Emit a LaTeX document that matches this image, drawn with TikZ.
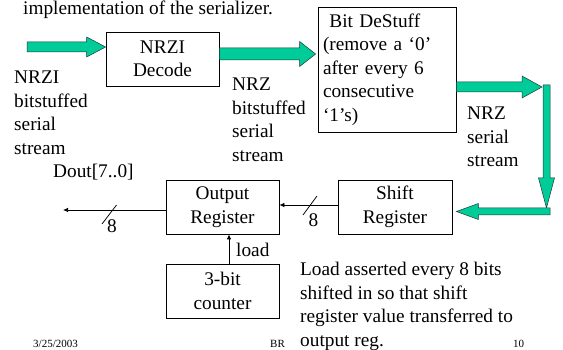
\documentclass[tikz,border=0pt]{standalone}
\usepackage{fontspec}
\setmainfont{Liberation Serif}
\usetikzlibrary{calc,arrows.meta}
\definecolor{gfill}{HTML}{00CC99}
\definecolor{gline}{HTML}{1A3A33}
% block arrow: start, tip, half shaft, half head, head length
\newcommand\blkarrow[5]{%
  \path ($(#2)!#5!(#1)$) coordinate (hb);
  \filldraw[garrow] ($(#1)!#3!90:(#2)$) -- ($(hb)!#3!90:(#2)$) -- ($(hb)!#4!90:(#2)$)
    -- (#2) -- ($(hb)!#4!-90:(#2)$) -- ($(hb)!#3!-90:(#2)$) -- ($(#1)!#3!-90:(#2)$) -- cycle;}
\begin{document}
\begin{tikzpicture}[x=1pt,y=-1pt,
  every node/.style={font=\fontsize{19.3}{23.5}\selectfont, inner sep=0pt},
  box/.style={draw=black, line width=0.75pt, align=center},
  txt/.style={align=left, anchor=north west},
  garrow/.style={fill=gfill, draw=gline, line width=0.5pt, line join=miter},
  sig/.style={draw=black, line width=0.75pt, -{Latex[length=5pt,width=4.5pt]}},
  slash/.style={draw=black, line width=0.75pt},
  foot/.style={font=\fontsize{11}{13}\selectfont, anchor=base west}]
\useasboundingbox (0,0) rectangle (563,350);

% title
\node[anchor=base west] (title) at (23,14.5) {implementation of the serializer.};

% boxes
\node[box, minimum width=113pt, minimum height=54pt] (nrzi) at (162.5,59) {NRZI\\Decode};
\node[box, minimum width=138pt, minimum height=125pt, text width=128pt, align=left, inner xsep=5pt] (destuff) at (387,69.5)
  {\ Bit DeStuff\\(remove a `0'\\after every 6\\consecutive\\`1's)};
\node[box, minimum width=114pt, minimum height=54pt] (shift) at (395,207) {Shift\\Register};
\node[box, minimum width=113pt, minimum height=54pt] (outr) at (222.5,207) {Output\\Register};
\node[box, minimum width=113pt, minimum height=54pt] (cnt) at (222.5,291) {3-bit\\counter};

% labels
\node[txt] (lab1) at (14,71) {NRZI\\bitstuffed\\serial\\stream};
\node[txt] (lab2) at (232,78) {NRZ\\bitstuffed\\serial\\stream};
\node[txt] (lab3) at (467,107) {NRZ\\serial\\stream};
\node[anchor=base west] (dout) at (53,178) {Dout[7..0]};
\node[anchor=base west] (load) at (236,257) {load};
\node[txt] (note) at (300,262) {Load asserted every 8 bits\\shifted in so that shift\\register value transferred to\\output reg.};

% green block arrows
\coordinate (inS) at (27,47);
\coordinate (inT) at ($(nrzi.west)+(0,-12)$);
\blkarrow{inS}{inT}{5pt}{10pt}{19pt}
\coordinate (a2S) at ($(nrzi.east)+(0,-5)$);
\coordinate (a2T) at ($(destuff.west |- a2S)+(-2,0)$);
\blkarrow{a2S}{a2T}{6pt}{12.5pt}{16pt}
\coordinate (a3S) at ($(destuff.east)+(0,17.5)$);
\coordinate (a3T) at (542,87);
\blkarrow{a3S}{a3T}{5pt}{11pt}{20pt}
\coordinate (vS) at (546.5,85);
\coordinate (vT) at (546.5,208);
\blkarrow{vS}{vT}{3.5pt}{8pt}{30pt}
\coordinate (bS) at (550,211.5);
\coordinate (bT) at ($(shift.east |- bS)+(4,0)$);
\blkarrow{bS}{bT}{3.5pt}{8pt}{22pt}

% thin signal arrows
\draw[sig] ([yshift=2pt]shift.west) -- ([yshift=2pt]outr.east);
\coordinate (doutend) at (63,210);
\draw[sig] ([yshift=-3pt]outr.west) -- (doutend);
\draw[sig] ([xshift=6.5pt]cnt.north) -- ([xshift=6.5pt]outr.south);

% bus slashes
\draw[slash] (303,215) -- (317,196);
\node (n8a) at (313.5,220) {8};
\draw[slash] (102,224) -- (116.5,205);
\node (n8b) at (112,226.5) {8};

% footer
\node[foot] (date) at (33,347) {3/25/2003};
\node[foot] (br) at (270,347) {BR};
\node[foot] (pg) at (513,347) {10};
\end{tikzpicture}
\end{document}
